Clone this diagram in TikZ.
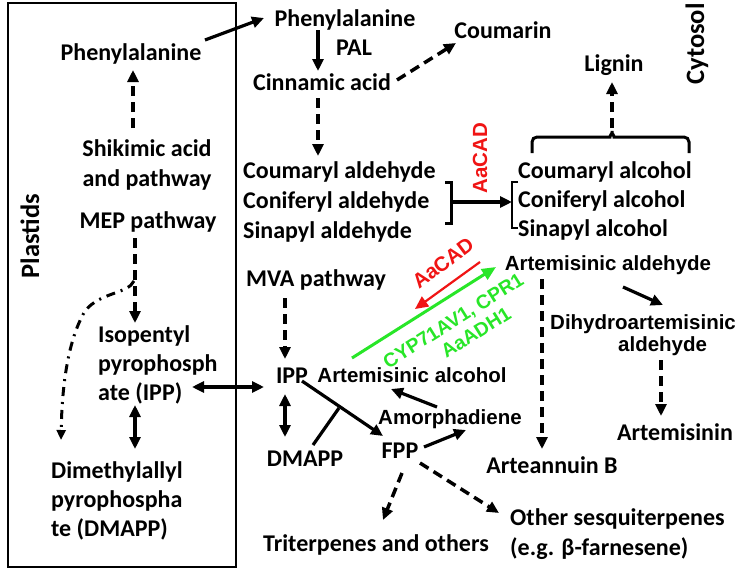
\documentclass[tikz,border=0pt]{standalone}
\usepackage{fontspec}
\setmainfont{Carlito}
\newfontfamily\fcal{Carlito}
\newfontfamily\farl{Liberation Sans}
\usetikzlibrary{arrows.meta,calc}
\definecolor{rd}{RGB}{240,20,20}
\definecolor{gn}{RGB}{40,230,40}
\tikzset{
  ct/.style={font=\fcal\bfseries\fontsize{24}{30}\selectfont, inner sep=0pt, anchor=base},
  ctl/.style={ct, anchor=base west, align=left},
  big/.style={font=\fcal\bfseries\fontsize{26.5}{30}\selectfont, inner sep=0pt, anchor=center, rotate=90},
  atxt/.style={font=\farl\bfseries\fontsize{20.5}{22}\selectfont, inner sep=0pt, anchor=base},
  lab/.style={font=\farl\bfseries\fontsize{20.5}{23}\selectfont, inner sep=0pt},
  glab/.style={font=\farl\bfseries\fontsize{19.5}{22}\selectfont, inner sep=0pt},
  tip/.style={-{Triangle[length=12pt,width=11pt]}},
  arr/.style={line width=3.2pt, tip},
  darr/.style={arr, line width=3.5pt, dash pattern=on 10pt off 6pt},
  dbl/.style={line width=3.2pt, {Triangle[length=12pt,width=11pt]}-{Triangle[length=12pt,width=11pt]}},
}
\begin{document}
\begin{tikzpicture}[x=1pt,y=-1pt]
\useasboundingbox (0,0) rectangle (740,576);
\fill[white] (0,0) rectangle (740,576);
% plastid box
\draw[line width=2.5pt] (8,3) rectangle (236,567);
\node[big] (plastids) at (30,236) {Plastids};
\node[big] (cytosol) at (697,44) {Cytosol};
% texts (base = baseline of last line)
\node[ct] (plPhe) at (131,60) {Phenylalanine};
\node[ct, align=center] (shik) at (147,186) {Shikimic acid\\and pathway};
\node[ct] (mep) at (148,228) {MEP pathway};
\node[ctl, font=\fcal\bfseries\fontsize{24}{29}\selectfont] (ipp1) at (98,400) {Isopentyl\\pyrophosph\\ate (IPP)};
\node[ctl, font=\fcal\bfseries\fontsize{24}{29}\selectfont] (dmapp1) at (51,536) {Dimethylallyl\\pyrophospha\\te (DMAPP)};
\node[ct] (topPhe) at (345,26) {Phenylalanine};
\node[ct] (pal) at (354,55) {PAL};
\node[ct] (cinn) at (322,90) {Cinnamic acid};
\node[ct] (coum) at (503,38) {Coumarin};
\node[ctl] (ald) at (243,238) {Coumaryl aldehyde\\Coniferyl aldehyde\\Sinapyl aldehyde};
\node[ctl, font=\fcal\bfseries\fontsize{24}{29}\selectfont] (alc) at (518,236) {Coumaryl alcohol\\Coniferyl alcohol\\Sinapyl alcohol};
\node[ct] (lignin) at (614,71) {Lignin};
\node[atxt] (artald) at (608,270) {Artemisinic aldehyde};
\node[ct] (mva) at (316,286) {MVA pathway};
\node[ct] (ipp) at (292,383) {IPP};
\node[ct] (dmapp) at (305,466) {DMAPP};
\node[ct] (fpp) at (400,458) {FPP};
\node[atxt] (artalc) at (412,382) {Artemisinic alcohol};
\node[atxt] (amor) at (450,424) {Amorphadiene};
\node[ct] (arteB) at (552,473) {Arteannuin B};
\node[atxt, anchor=base west, align=left] (dihydro) at (550,351) {Dihydroartemisinic\\\hspace*{68pt}aldehyde};
\node[ct] (artemisinin) at (675,440) {Artemisinin};
\node[ct] (triterp) at (376,551) {Triterpenes and others};
\node[ctl] (othersesq) at (510,555) {Other sesquiterpenes\\(e.g. β-farnesene)};
% enzyme labels
\node[lab, text=rd, rotate=90] (cad1) at (480,158) {AaCAD};
\node[lab, text=rd, rotate=37] (cad2) at (443,263) {AaCAD};
\node[glab, text=gn, rotate=32, align=center] (cyp) at (459,330) {CYP71AV1, CPR1\\\hspace*{26pt}AaADH1};
% connector end points
\coordinate (plPheE) at (205,40);
\coordinate (topPheW) at (264,18);
\coordinate (palT) at (318,30);
\coordinate (cinnN) at (318,71);
\coordinate (cinnE) at (397,80);
\coordinate (coumW) at (456,43);
\coordinate (cinnS) at (318,98);
\coordinate (aldN) at (318,156);
\coordinate (shikN) at (133,128);
\coordinate (plPheS) at (133,70);
\coordinate (mepS) at (135,238);
\coordinate (ipp1N) at (135,323);
\coordinate (curveS) at (134,281);
\coordinate (curveE) at (61,440);
\coordinate (ipp1E) at (192,387);
\coordinate (ippW) at (264,387);
\coordinate (ipp1S) at (135,405);
\coordinate (dmapp1N) at (135,449);
\coordinate (mvaS) at (285,298);
\coordinate (ippN) at (285,359);
\coordinate (ippS) at (285,394);
\coordinate (dmappN) at (285,437);
\coordinate (ippE) at (302,381);
\coordinate (fppNW) at (383,436);
\coordinate (junc) at (339,408);
\coordinate (dmappNE) at (313,445);
\coordinate (fppE) at (424,447);
\coordinate (amorS) at (466,430);
\coordinate (amorN) at (437,407);
\coordinate (artalcS) at (391,389);
\coordinate (fppS) at (402,473);
\coordinate (triN) at (383,520);
\coordinate (fppSE) at (420,463);
\coordinate (othN) at (499,513);
\coordinate (artaldS) at (542,279);
\coordinate (arteBN) at (542,449);
\coordinate (artaldSE) at (623,287);
\coordinate (dihydroN) at (663,305);
\coordinate (dihydroS) at (661,360);
\coordinate (artemN) at (661,416);
\coordinate (braR) at (451,202);
\coordinate (bkL) at (512,202);
\coordinate (braceTop) at (612,128);
\coordinate (ligS) at (612,82);
\coordinate (redS) at (480,262);
\coordinate (redE) at (415,309);
\coordinate (grnS) at (352,358);
\coordinate (grnE) at (496,267);
% connectors
\draw[arr] (plPheE) -- (topPheW);
\draw[arr] (palT) -- (cinnN);
\draw[darr] (cinnE) -- (coumW);
\draw[darr] (cinnS) -- (aldN);
\draw[darr] (shikN) -- (plPheS);
\draw[darr] (mepS) -- (ipp1N);
\draw[line width=3pt, dash pattern=on 9pt off 6pt on 2pt off 6pt, -{Triangle[length=10pt,width=9pt]}]
  (curveS) .. controls (128,294) and (100,292) .. (85,311)
  .. controls (68,340) and (62,385) .. (curveE);
\draw[dbl] (ipp1E) -- (ippW);
\draw[dbl] (ipp1S) -- (dmapp1N);
\draw[darr] (mvaS) -- (ippN);
\draw[dbl] (ippS) -- (dmappN);
\draw[arr] (ippE) -- (fppNW);
\draw[line width=3.2pt] (dmappNE) -- (junc);
\draw[arr] (fppE) -- (amorS);
\draw[arr] (amorN) -- (artalcS);
\draw[darr] (fppS) -- (triN);
\draw[darr] (fppSE) -- (othN);
\draw[darr] (artaldS) -- (arteBN);
\draw[arr] (artaldSE) -- (dihydroN);
\draw[darr] (dihydroS) -- (artemN);
% brackets
\draw[line width=3pt] ($(braR)+(-6,-20)$) -| ($(braR)+(0,21)$) -- ++(-6,0);
\draw[line width=2.5pt] ($(bkL)+(6,-20)$) -| ($(bkL)+(0,26)$) -- ++(6,0);
\draw[arr] (braR) -- (bkL);
% brace
\draw[line width=3pt, rounded corners=5pt] (532,153) |- (605,137) to[out=0,in=-90] (braceTop) to[out=-90,in=180] (619,137) -| (689,153);
\draw[darr] (braceTop) -- (ligS);
% red and green
\draw[line width=2.2pt, rd, -{Triangle[length=13pt,width=12pt]}] (redS) -- (redE);
\draw[line width=3pt, gn, -{Triangle[length=14pt,width=12pt]}] (grnS) -- (grnE);
\end{tikzpicture}
\end{document}
